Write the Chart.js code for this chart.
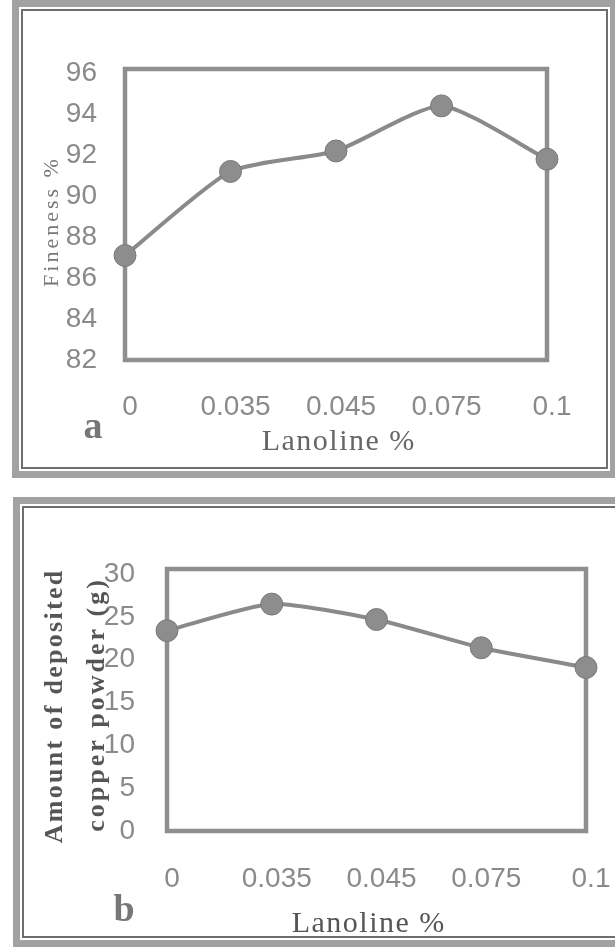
<!DOCTYPE html>
<html>
<head>
<meta charset="utf-8">
<script src="https://cdn.jsdelivr.net/npm/chart.js@4.4.1/dist/chart.umd.min.js"></script>
<style>
  body { margin: 0; background: #fff; width: 615px; height: 950px; overflow: hidden; position: relative; }
  .frame { position: absolute; border: 7px solid #a2a2a2; box-sizing: border-box; }
  .frame::after { content: ''; position: absolute; left: 2px; top: 2px; right: 2px; bottom: 2px; border: 2px solid #6e6e6e; }
  #frameA { left: 12px; top: 0; width: 605px; height: 478px; }
  #frameB { left: 13px; top: 497px; width: 640px; height: 450px; }
  canvas { position: absolute; left: 0; }
  #canvasA { top: 0; }
  #canvasB { top: 480px; }
</style>
</head>
<body>
<div class="frame" id="frameA"></div>
<div class="frame" id="frameB"></div>
<canvas id="canvasA" width="615" height="480"></canvas>
<canvas id="canvasB" width="615" height="470"></canvas>
<script>
// lanoline additions (x categories)
var lanoline = ['0', '0.035', '0.045', '0.075', '0.1'];
// (a) fineness %
var fineness = [87.1, 91.2, 92.2, 94.4, 91.8];
// (b) amount of deposited copper powder (g)
var copperPowder = [23.4, 26.5, 24.7, 21.4, 19.1];

var tickColor = '#8a8a8a';
var lineColor = '#8a8a8a';

function decorPlugin(texts) {
    return {
        id: 'decor',
        beforeDatasetsDraw: function (chart) {
            var a = chart.chartArea;
            var ctx = chart.ctx;
            ctx.save();
            ctx.strokeStyle = '#8f8f8f';
            ctx.lineWidth = 4.5;
            ctx.strokeRect(a.left, a.top, a.right - a.left, a.bottom - a.top);
            ctx.restore();
        },
        afterDraw: function (chart) {
            var ctx = chart.ctx;
            texts.forEach(function (t) {
                ctx.save();
                ctx.font = t.font;
                ctx.fillStyle = t.color;
                ctx.textAlign = 'center';
                ctx.textBaseline = 'middle';
                ctx.letterSpacing = (t.spacing || 0) + 'px';
                ctx.translate(t.x, t.y);
                if (t.rotate) ctx.rotate(-Math.PI / 2);
                ctx.fillText(t.text, (t.spacing || 0) / 2, 0);
                ctx.restore();
            });
        }
    };
}

function drawPanel(canvasId, values, cfg) {
    try {
        var config = {
            type: 'line',
            data: {
                labels: lanoline,
                datasets: [{
                    data: values,
                    borderColor: lineColor,
                    borderWidth: 4,
                    tension: 0.2,
                    pointRadius: 11,
                    pointBackgroundColor: '#8d8d8d',
                    pointBorderColor: '#7a7a7a',
                    pointBorderWidth: 1,
                    clip: false,
                    fill: false
                }]
            },
            options: {
                responsive: false,
                animation: false,
                layout: { padding: { left: 0, top: cfg.top, right: cfg.right, bottom: 0 } },
                plugins: { legend: { display: false }, tooltip: { enabled: false } },
                scales: {
                    x: {
                        type: 'category',
                        offset: false,
                        grid: { display: false },
                        border: { display: false },
                        ticks: {
                            color: tickColor,
                            font: { family: '"Liberation Sans", Arial', size: 28 },
                            padding: cfg.xPad,
                            labelOffset: 5,
                            maxRotation: 0,
                            autoSkip: false
                        },
                        afterFit: function (s) {
                            s.height = cfg.xHeight;
                            // keep the plot box where it is, labels may overhang
                            s.paddingLeft = 0;
                            s.paddingRight = 0;
                        }
                    },
                    y: {
                        min: cfg.min,
                        max: cfg.max,
                        grid: { display: false },
                        border: { display: false },
                        ticks: {
                            stepSize: cfg.step,
                            includeBounds: false,
                            color: tickColor,
                            font: { family: '"Liberation Sans", Arial', size: 28 },
                            padding: cfg.yPad
                        },
                        afterFit: function (s) {
                            s.width = cfg.left;
                            s.paddingTop = 0;
                            s.paddingBottom = 0;
                        }
                    }
                }
            },
            plugins: [decorPlugin(cfg.texts)]
        };
        var ctx = document.getElementById(canvasId).getContext('2d');
        return new Chart(ctx, config);
    } catch (error) {
        console.log('Error draw: ' + error);
    }
}

drawPanel('canvasA', fineness, {
    top: 69, right: 68, left: 125, xHeight: 120,
    min: 82, max: 96.2, step: 2, xPad: 22, yPad: 20,
    texts: [
        { text: 'Fineness %', x: 52, y: 223, font: '22px "Liberation Serif"', color: '#777', spacing: 3, rotate: true },
        { text: 'Lanoline %', x: 338, y: 442, font: '30px "Liberation Serif"', color: '#666', spacing: 1.5 },
        { text: 'a', x: 93, y: 428, font: 'bold 38px "Liberation Serif"', color: '#777' }
    ]
});

drawPanel('canvasB', copperPowder, {
    top: 89, right: 29, left: 167, xHeight: 119,
    min: 0, max: 30.6, step: 5, xPad: 23, yPad: 24,
    texts: [
        { text: 'Amount of deposited', x: 55, y: 227, font: 'bold 26px "Liberation Serif"', color: '#555', spacing: 2.3, rotate: true },
        { text: 'copper powder (g)', x: 97, y: 226, font: 'bold 26px "Liberation Serif"', color: '#555', spacing: 3, rotate: true },
        { text: 'Lanoline %', x: 368, y: 444, font: '30px "Liberation Serif"', color: '#555', spacing: 1.5 },
        { text: 'b', x: 124, y: 431, font: 'bold 38px "Liberation Serif"', color: '#777' }
    ]
});
</script>
</body>
</html>
